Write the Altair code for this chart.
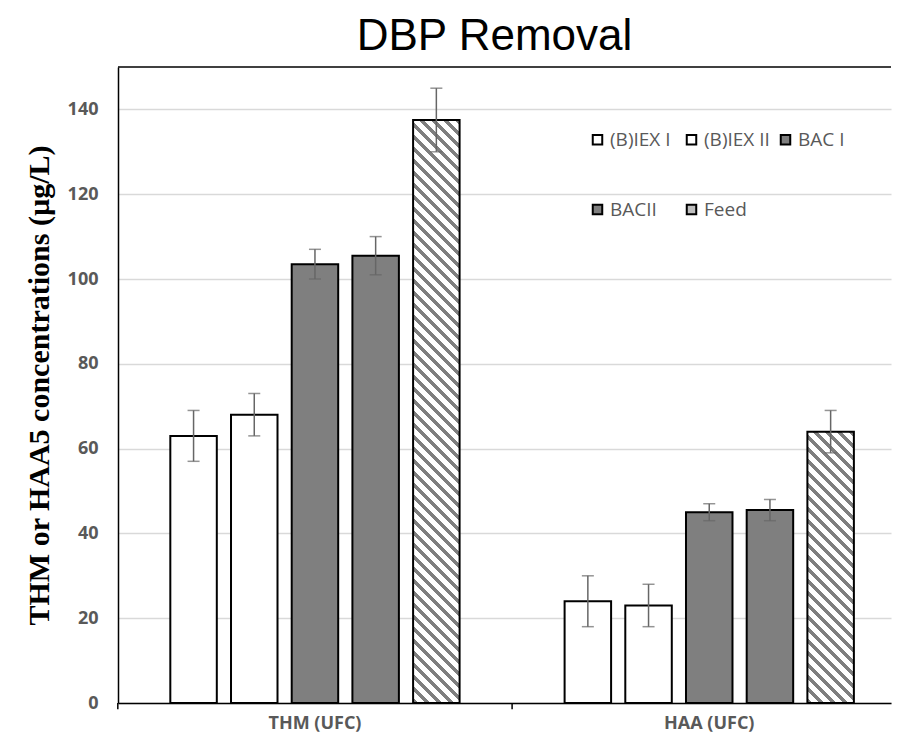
import math
import altair as alt
import pandas as pd

# ---------------- data ----------------
categories = ["THM (UFC)", "HAA (UFC)"]
series = ["(B)IEX I", "(B)IEX II", "BAC I", "BACII", "Feed"]
thm_values = [63, 68, 103.5, 105.5, 137.5]
thm_low = [57, 63, 100, 101, 130]
thm_high = [69, 73, 107, 110, 145]
haa_values = [24, 23, 45, 45.5, 64]
haa_low = [18, 18, 43, 43, 59]
haa_high = [30, 28, 47, 48, 69]
y_ticks = [0, 20, 40, 60, 80, 100, 120, 140]
y_max = 150

rows = []
for cat, vals, lo, hi in [
    (categories[0], thm_values, thm_low, thm_high),
    (categories[1], haa_values, haa_low, haa_high),
]:
    for s, v, l, h in zip(series, vals, lo, hi):
        rows.append({"cat": cat, "series": s, "value": v, "lo": l, "hi": h})
df = pd.DataFrame(rows)
cat_df = pd.DataFrame({"cat": categories})

# ---------------- layout ----------------
W, H = 773, 636
X_PI, X_PO, X_ALIGN = 0.2303, 0.0954, 0.601
O_PI, O_PO = 0.234, 0.117
x_step = W / (len(categories) - X_PI + 2 * X_PO)
x_bw = x_step * (1 - X_PI)
o_step = x_bw / (len(series) - O_PI + 2 * O_PO)
bar_w = o_step * (1 - O_PI)
half_gap = X_PI * x_step / 2

GRAY = "#7f7f7f"
TXT = "#595959"
fill_range = ["white", "white", GRAY, GRAY, "#bfbfbf"]

x_scale = alt.Scale(domain=categories, paddingInner=X_PI, paddingOuter=X_PO, align=X_ALIGN)
x_enc = alt.X("cat:N", sort=categories, title=None, scale=x_scale,
              axis=alt.Axis(labelFont="Open Sans", labelFontWeight="bold", labelFontSize=18,
                            labelColor=TXT, labelAngle=0, domainColor="black", domainWidth=1.5,
                            ticks=True, tickSize=6, tickOpacity=0, labelPadding=5, grid=False))
xo_enc = alt.XOffset("series:N", sort=series,
                     scale=alt.Scale(domain=series, paddingInner=O_PI, paddingOuter=O_PO))
y_scale = alt.Scale(domain=[0, y_max], nice=False)
y_enc = alt.Y("value:Q", scale=y_scale, title="THM or HAA5 concentrations (µg/L)",
              axis=alt.Axis(values=y_ticks, labelFont="Open Sans", labelFontWeight="bold",
                            labelFontSize=18, labelColor=TXT, ticks=False, tickSize=0,
                            labelPadding=20, domainColor="black", domainWidth=1.5,
                            gridColor="#d9d9d9", gridWidth=1.5,
                            titleFont="Liberation Serif", titleFontWeight="bold",
                            titleFontSize=30, titleColor="black", titlePadding=13))

base = alt.Chart(df)

bars = base.transform_filter(alt.datum.series != "Feed").mark_bar(
    stroke="black", strokeWidth=2).encode(
    x=x_enc, xOffset=xo_enc, y=y_enc,
    fill=alt.Fill("series:N", sort=series,
                  scale=alt.Scale(domain=series, range=fill_range),
                  legend=alt.Legend(title=None, orient="none", legendX=470, legendY=63,
                                    direction="horizontal", columns=3, gridAlign="all",
                                    columnPadding=6, rowPadding=50, symbolType="square",
                                    symbolSize=90, symbolStrokeColor="black",
                                    symbolStrokeWidth=2, symbolOpacity=1,
                                    labelFont="Open Sans", labelFontSize=19,
                                    labelColor=TXT, labelOffset=3, padding=0)),
)


def hatch_gradient(value, period=12.0, gray_w=5.0):
    h = value / y_max * H
    w = bar_w
    total = w + h
    stops = [alt.GradientStop(offset=0, color=GRAY)]
    n = 0
    while True:
        a = n * period + gray_w
        if a >= total:
            break
        stops.append(alt.GradientStop(offset=a / total, color=GRAY))
        stops.append(alt.GradientStop(offset=a / total, color="white"))
        b = (n + 1) * period
        if b >= total:
            break
        stops.append(alt.GradientStop(offset=b / total, color="white"))
        stops.append(alt.GradientStop(offset=b / total, color=GRAY))
        n += 1
    stops.append(alt.GradientStop(offset=1, color=stops[-1].color))
    k = (w + h) / (w * w + h * h)
    return alt.Gradient(gradient="linear", stops=stops, x1=0, y1=1, x2=k * w, y2=1 - k * h)


feed_layers = []
for cat, vals in [(categories[0], thm_values), (categories[1], haa_values)]:
    feed_layers.append(
        base.transform_filter((alt.datum.series == "Feed") & (alt.datum.cat == cat))
        .mark_bar(stroke="black", strokeWidth=2, fill=hatch_gradient(vals[4]))
        .encode(x=x_enc, xOffset=xo_enc, y=y_enc)
    )

ERR = "#666666"
err_rule = base.mark_rule(color=ERR, strokeWidth=1.5).encode(
    x=x_enc, xOffset=xo_enc, y=alt.Y("lo:Q", scale=y_scale), y2="hi:Q")
err_lo = base.mark_tick(color=ERR, thickness=1.5, size=12, orient="horizontal").encode(
    x=x_enc, xOffset=xo_enc, y=alt.Y("lo:Q", scale=y_scale))
err_hi = base.mark_tick(color=ERR, thickness=1.5, size=12, orient="horizontal").encode(
    x=x_enc, xOffset=xo_enc, y=alt.Y("hi:Q", scale=y_scale))

# category divider ticks below the axis (at the start of each category step)
div_ticks = alt.Chart(cat_df).mark_rule(color="black", strokeWidth=1.5, xOffset=-half_gap).encode(
    x=alt.X("cat:N", sort=categories, scale=x_scale, bandPosition=0),
    y=alt.YDatum(0, scale=y_scale), y2=alt.Y2Datum(-1.5))

top_rule = alt.Chart(pd.DataFrame({"top": [y_max]})).mark_rule(
    color="black", strokeWidth=1.5).encode(y=alt.Y("top:Q", scale=y_scale))

chart = alt.layer(bars, *feed_layers, err_rule, err_lo, err_hi, div_ticks, top_rule).properties(
    width=W, height=H,
    title=alt.TitleParams("DBP Removal", font="Liberation Sans", fontSize=44,
                          fontWeight="normal", color="black", anchor="middle", offset=7, dx=-10),
    padding={"left": 16, "top": 7, "right": 0, "bottom": 0},
).configure_view(stroke=None)

chart.save("out.html", embed_options={"renderer": "svg", "actions": False})
